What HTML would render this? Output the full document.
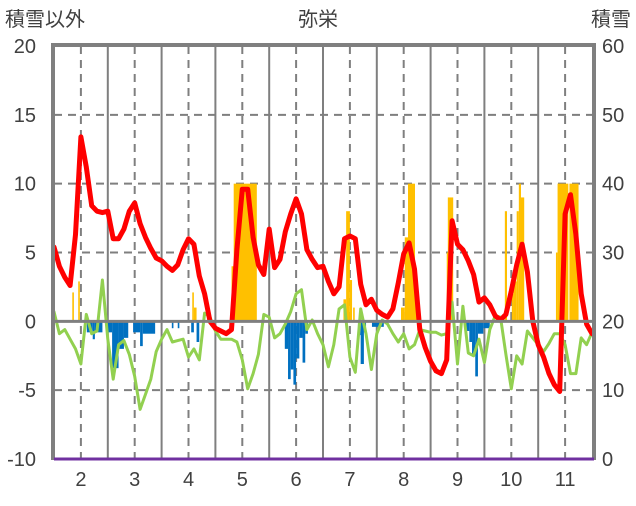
<!DOCTYPE html>
<html><head><meta charset="utf-8"><style>
body{margin:0;background:#fff;}
svg text{font-family:"Liberation Sans","Noto Sans CJK JP",sans-serif;fill:#404040;}
</style></head><body>
<svg id="c" width="636" height="501" xmlns="http://www.w3.org/2000/svg">
<text x="5" y="26" font-size="20">積雪以外</text>
<text x="318" y="26" font-size="20" text-anchor="middle">弥栄</text>
<text x="631" y="26" font-size="20" text-anchor="end">積雪</text>
<g id="grid"></g>
<g id="bars"></g>
<g id="lines"></g>
<g id="axes"></g>
</svg>
<script>
const monthLabels=["2","3","4","5","6","7","8","9","10","11"];
const leftTicks=[20,15,10,5,0,-5,-10];
const rightTicks=[60,50,40,30,20,10,0];
const startMonth=1.5, step=0.1;
const redValues=[5.4,4.0,3.2,2.6,6.3,13.4,11.2,8.4,8.0,7.9,8.0,6.0,6.0,6.7,8.0,8.6,7.1,6.1,5.3,4.6,4.4,4.0,3.7,4.1,5.2,6.0,5.6,3.3,2.0,0.0,-0.5,-0.7,-0.9,-0.6,5.2,9.6,9.6,6.1,4.1,3.4,6.7,3.9,4.5,6.5,7.8,8.9,7.8,5.2,4.5,3.9,4.0,2.9,2.0,2.5,6.0,6.2,6.0,2.7,1.2,1.6,0.8,0.5,0.3,0.9,2.8,4.9,5.7,3.8,-0.6,-1.9,-2.9,-3.6,-3.8,-2.8,7.3,5.6,5.2,4.4,3.4,1.4,1.7,1.2,0.4,0.1,0.5,2.2,4.1,5.6,3.6,0.0,-1.7,-2.6,-3.8,-4.6,-5.1,7.8,9.2,6.3,2.0,-0.2,-0.9];
const greenValues=[0.7,-0.9,-0.6,-1.3,-2.0,-3.1,0.5,-0.9,-0.7,3.0,-1.3,-4.2,-1.7,-1.4,-2.4,-4.0,-6.4,-5.3,-4.2,-2.2,-1.3,-0.6,-1.5,-1.4,-1.3,-2.6,-2.0,-2.8,0.6,0.3,-0.7,-1.3,-1.3,-1.3,-1.5,-2.8,-4.9,-3.8,-2.4,0.5,0.3,-1.2,-0.9,-0.2,0.7,2.0,2.3,-0.6,0.1,-0.9,-1.7,-3.3,-1.7,0.9,1.2,-2.6,-3.7,0.9,-0.9,-3.5,-0.9,0.1,-0.2,-0.9,-1.5,-0.9,-2.0,-1.7,-0.6,-0.7,-0.8,-0.8,-1.0,-0.9,1.4,-3.1,1.1,-2.3,-2.5,-1.3,-3.0,-0.6,0.4,0.3,-2.4,-4.9,-2.5,-3.1,-0.7,-1.2,-1.7,-2.2,-1.6,-0.9,-0.9,-1.7,-3.8,-3.8,-1.2,-1.7,-0.8];
const barStart=[1.84,1.95,4.07,4.10,4.80,4.84,6.88,6.93,7.00,7.06,7.95,8.02,8.08,8.21,8.80,8.82,9.88,10.01,10.04,10.10,10.14,10.18,10.83,10.86,11.08,
2.11,2.22,2.26,2.50,2.58,2.70,2.80,2.97,3.10,3.15,3.69,3.80,4.05,4.15,5.79,5.85,5.90,5.95,6.00,6.06,6.12,6.17,7.15,7.20,7.26,7.41,9.16,9.22,9.27,9.33,9.38,9.48];
const barEnd=[1.87,1.98,4.10,4.15,4.84,5.27,6.93,7.00,7.04,7.09,8.02,8.08,8.21,8.26,8.82,8.92,9.92,10.04,10.10,10.14,10.18,10.24,10.86,11.06,11.25,
2.22,2.26,2.40,2.58,2.70,2.80,2.88,3.10,3.15,3.38,3.72,3.83,4.10,4.20,5.85,5.90,5.95,6.00,6.06,6.12,6.17,6.22,7.20,7.26,7.30,7.63,9.22,9.27,9.33,9.38,9.48,9.60];
const barValue=[2.1,2.9,2.1,1.0,4.0,10,1.6,8.0,3.0,1.0,1.0,6.1,10,3.0,5.0,9.0,8.0,2.0,2.9,8.0,10,9.0,5.0,10,10,
-0.8,-1.3,-0.8,-0.8,-3.4,-2.0,-1.2,-0.8,-1.8,-0.9,-0.5,-0.5,-0.8,-1.5,-2.0,-4.2,-3.5,-4.6,-2.7,-1.2,-3.0,-0.9,-1.0,-3.1,-0.8,-0.4,-0.7,-1.5,-2.5,-4.0,-0.9,-0.5];

const L=54,R=592,T=46,B=459;
const x=m=>L+(m-1.5)*(R-L)/10;
const y=v=>B-(v+10)*(B-T)/30;
const NS="http://www.w3.org/2000/svg";
function mk(tag,parent,attrs){const e=document.createElementNS(NS,tag);for(const k in attrs)e.setAttribute(k,attrs[k]);parent.appendChild(e);return e;}
const grid=document.getElementById('grid'),bars=document.getElementById('bars'),lines=document.getElementById('lines'),axes=document.getElementById('axes');
leftTicks.forEach(v=>{if(v===20||v===-10||v===0)return;
 const l=mk('line',grid,{x1:L,x2:R,y1:y(v),y2:y(v),stroke:'#7f7f7f','stroke-width':2,'stroke-dasharray':'8,6'});
 
 });
monthLabels.forEach((lab,i)=>{const m=2+i;
 const d=mk('line',grid,{x1:x(m),x2:x(m),y1:T,y2:B,stroke:'#7f7f7f','stroke-width':2,'stroke-dasharray':'8,6'});
 
 
 if(i<monthLabels.length-1){const s=mk('line',grid,{x1:x(m+0.5),x2:x(m+0.5),y1:T,y2:B,stroke:'#7f7f7f','stroke-width':2});
 
 }
 const t=mk('text',axes,{x:x(m),y:486,'font-size':20,'text-anchor':'middle'});t.textContent=lab;
 
 });
barValue.forEach((v,i)=>{const x0=x(barStart[i]),x1=x(barEnd[i]);
 const r=mk('rect',bars,{x:x0,width:Math.max(1.5,x1-x0),y:Math.min(y(v),y(0)),height:Math.abs(y(v)-y(0)),fill:v>0?'#ffc000':'#0070c0'});
 
 });
const z=mk('line',axes,{x1:L,x2:R,y1:y(0),y2:y(0),stroke:'#7f7f7f','stroke-width':3});


function path(vals,color,w,name){const d=vals.map((v,i)=>(i?'L':'M')+x(startMonth+i*step).toFixed(1)+','+y(v).toFixed(1)).join('');
 const p=mk('path',lines,{d:d,fill:'none',stroke:color,'stroke-width':w,'stroke-linejoin':'round','stroke-linecap':'round'});
 
 }
path(greenValues,'#92d050',3,'green-series-line');
path(redValues,'#ff0000',5,'red-series-line');
const f=mk('path',axes,{d:`M${L-1},${B+1}V${T-1}H${R+2}V${B+1}`,fill:'none',stroke:'#7f7f7f','stroke-width':4});


const bl=mk('line',axes,{x1:L,x2:R+2,y1:B,y2:B,stroke:'#7030a0','stroke-width':3});


leftTicks.forEach(v=>{const t=mk('text',axes,{x:36,y:y(v)+7,'font-size':20,'text-anchor':'end'});t.textContent=v;
 
 });
rightTicks.forEach((v,i)=>{const t=mk('text',axes,{x:602,y:y(leftTicks[i])+7,'font-size':20});t.textContent=v;
 
 });
</script>
</body></html>
